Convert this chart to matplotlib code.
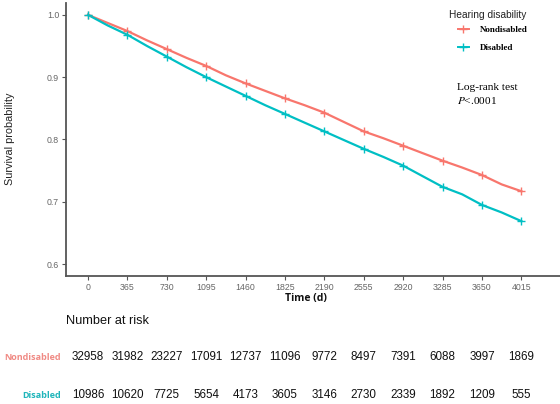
import matplotlib
matplotlib.use("Agg")
import matplotlib.pyplot as plt
import matplotlib.transforms as mtransforms
from matplotlib.lines import Line2D
from matplotlib import font_manager

plt.rcParams['mathtext.fontset'] = 'stix'

names = {f.name for f in font_manager.fontManager.ttflist}
narrow = 'Liberation Sans'
for cand in ['Liberation Sans Narrow', 'DejaVu Sans Condensed']:
    if cand in names:
        narrow = cand
        break

# survival curves
times = [0, 182, 365, 547, 730, 912, 1095, 1277, 1460, 1642, 1825, 2007, 2190,
         2372, 2555, 2737, 2920, 3102, 3285, 3467, 3650, 3832, 4015]
surv_nondisabled = [1.0, 0.987, 0.974, 0.959, 0.945, 0.931, 0.918, 0.903, 0.890,
                    0.878, 0.866, 0.855, 0.843, 0.828, 0.813, 0.802, 0.790, 0.778,
                    0.766, 0.755, 0.743, 0.728, 0.717]
surv_disabled = [1.0, 0.983, 0.968, 0.950, 0.933, 0.916, 0.900, 0.885, 0.870,
                 0.855, 0.841, 0.827, 0.813, 0.799, 0.785, 0.772, 0.758, 0.741,
                 0.724, 0.712, 0.695, 0.683, 0.669]

ticks = [0, 365, 730, 1095, 1460, 1825, 2190, 2555, 2920, 3285, 3650, 4015]
risk_nondisabled = [32958, 31982, 23227, 17091, 12737, 11096, 9772, 8497, 7391, 6088, 3997, 1869]
risk_disabled = [10986, 10620, 7725, 5654, 4173, 3605, 3146, 2730, 2339, 1892, 1209, 555]

red = '#F8766D'
teal = '#00BFC4'

fig = plt.figure(figsize=(5.6, 4.04), dpi=100)
ax = fig.add_axes([66 / 560, 1 - 276 / 404, 1 - 66 / 560, 273 / 404])

for s, c in [(surv_nondisabled, red), (surv_disabled, teal)]:
    ax.plot(times, s, color=c, lw=1.6, zorder=3)
    mk = [s[times.index(t)] for t in ticks]
    ax.plot(ticks, mk, ls='none', marker='+', ms=6, mew=1.0, color=c, zorder=4)

ax.set_xlim(-204, 4373)
ax.set_ylim(0.581, 1.019)
ax.set_xticks(ticks)
ax.set_yticks([0.6, 0.7, 0.8, 0.9, 1.0])
ax.set_yticklabels(['0.6', '0.7', '0.8', '0.9', '1.0'])
ax.tick_params(labelsize=6.3, colors='#555555', labelcolor='#666666', length=3,
               width=0.8, pad=2)
for lab in ax.get_xticklabels() + ax.get_yticklabels():
    lab.set_family('Liberation Sans')
for side in ['top', 'right']:
    ax.spines[side].set_visible(False)
for side in ['left', 'bottom']:
    ax.spines[side].set_color('#555555')
    ax.spines[side].set_linewidth(1.3)

fig.text(10 / 560, 1 - 139 / 404, 'Survival probability', rotation=90,
         ha='center', va='center', fontsize=7.8, family='Liberation Sans',
         color='#222222')
fig.text(306 / 560, 1 - 298 / 404, 'Time (d)', ha='center', va='center',
         fontsize=7.5, fontweight='bold', family='Open Sans', color='#111111')

# legend
fig.text(449 / 560, 1 - 15 / 404, 'Hearing disability', ha='left', va='center',
         fontsize=7.3, family='Liberation Sans', color='#222222')
handles = [Line2D([], [], color=red, marker='+', lw=1.4, ms=6),
           Line2D([], [], color=teal, marker='+', lw=1.4, ms=6)]
ax.legend(handles, ['Nondisabled', 'Disabled'],
          loc='upper left', bbox_to_anchor=(458 / 560, 1 - 26 / 404),
          bbox_transform=fig.transFigure, frameon=False,
          prop={'family': 'Liberation Serif', 'weight': 'bold', 'size': 6.5},
          handlelength=1.2, handletextpad=1.2, labelspacing=1.05,
          borderaxespad=0, borderpad=0)

fig.text(457 / 560, 1 - 88 / 404, 'Log-rank test', family='Liberation Serif',
         fontsize=8.2, va='center', ha='left')
fig.text(457 / 560, 1 - 100 / 404, r'$P$<.0001', family='Liberation Serif',
         fontsize=8.2, va='center', ha='left')

# risk table
fig.text(66 / 560, 1 - 321 / 404, 'Number at risk', fontsize=9.2, family=narrow,
         va='center', ha='left', color='#111111')
tr = mtransforms.blended_transform_factory(ax.transData, fig.transFigure)
for vals, y in [(risk_nondisabled, 1 - 357 / 404), (risk_disabled, 1 - 395 / 404)]:
    for t, v in zip(ticks, vals):
        ax.text(t, y, str(v), transform=tr, ha='center', va='center',
                fontsize=8.4, family=narrow, color='#111111', clip_on=False)
fig.text(61 / 560, 1 - 357 / 404, 'Nondisabled', ha='right', va='center',
         fontsize=6.5, family='Open Sans', fontweight='bold', color='#F08A84')
fig.text(61 / 560, 1 - 395 / 404, 'Disabled', ha='right', va='center',
         fontsize=6.5, family='Open Sans', fontweight='bold', color='#1FB5BA')

fig.savefig('out.png', dpi=100)
